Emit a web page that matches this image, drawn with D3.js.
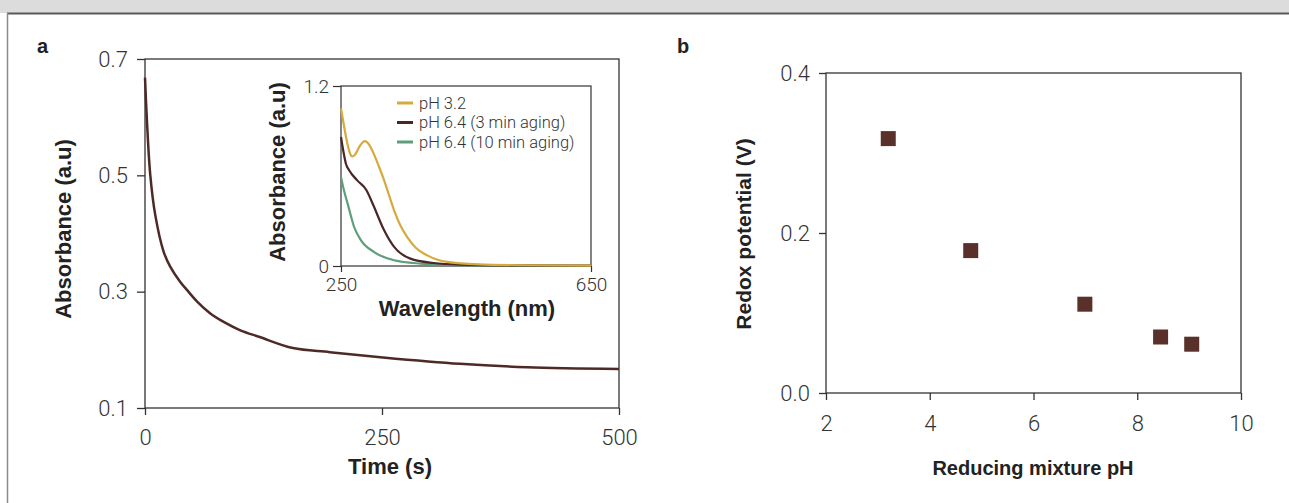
<!DOCTYPE html>
<html>
<head>
<meta charset="utf-8">
<script src="https://cdn.jsdelivr.net/npm/d3@7"></script>
<style>
  html, body { margin: 0; padding: 0; background: #fff; }
  svg { display: block; }
  .tick text { font-family: Roboto, "Liberation Sans", sans-serif; font-weight: 300; fill: #333; }
  .title { font-family: "Liberation Sans", Arial, sans-serif; font-weight: bold; fill: #222; }
</style>
</head>
<body>
<div id="chart"></div>
<script>
// panel a: absorbance decay over time
var decayTime = [0, 2.1, 5.6, 10.8, 19.6, 26.6, 37, 44.2, 55, 68.6, 83, 100, 121, 156, 195, 251, 332, 403, 500];
var decayAbs  = [0.668, 0.592, 0.5, 0.432, 0.369, 0.343, 0.317, 0.303, 0.283, 0.263, 0.248, 0.234, 0.222, 0.203, 0.196, 0.187, 0.176, 0.170, 0.167];
var decayXTicks = [0, 250, 500];
var decayYTicks = [0.1, 0.3, 0.5, 0.7];

// inset: spectra
var insetLabels = ["pH 3.2", "pH 6.4 (3 min aging)", "pH 6.4 (10 min aging)"];
var insetColors = ["#d6aa3c", "#4b2626", "#5e9e7a"];
var goldWl  = [250, 255, 260, 265, 268, 272, 280, 288, 293, 300, 311, 319, 327, 335, 345, 356, 370, 388, 420, 470, 550, 650];
var goldAbs = [1.05, 0.93, 0.82, 0.745, 0.73, 0.74, 0.80, 0.833, 0.82, 0.77, 0.66, 0.571, 0.47, 0.371, 0.27, 0.193, 0.12, 0.071, 0.027, 0.011, 0.005, 0.003];
var brownWl  = [250, 254, 258, 263, 276, 291, 296, 303, 319, 335, 361, 398, 441, 520, 650];
var brownAbs = [0.86, 0.76, 0.68, 0.638, 0.571, 0.504, 0.46, 0.393, 0.238, 0.127, 0.049, 0.02, 0.009, 0.004, 0.002];
var greenWl  = [250, 255, 260.6, 271, 282, 303, 335, 377, 441, 520, 650];
var greenAbs = [0.593, 0.50, 0.416, 0.26, 0.171, 0.093, 0.038, 0.016, 0.005, 0.002, 0.001];
var insetXTicks = [250, 650];
var insetYTicks = [0, 1.2];

// panel b: redox potential vs pH
var mixPH = [3.2, 4.79, 6.99, 8.45, 9.05];
var redoxV = [0.318, 0.178, 0.111, 0.070, 0.061];
var redoxXTicks = [2, 4, 6, 8, 10];
var redoxYTicks = [0.0, 0.2, 0.4];

var W = 1289, H = 503;
var svg = d3.select("#chart").append("svg").attr("width", W).attr("height", H);

// frame
svg.append("rect").attr("x", 0).attr("y", 0).attr("width", W).attr("height", 13).attr("fill", "#dcdcdc");
svg.append("line").attr("x1", 7).attr("x2", W).attr("y1", 13.5).attr("y2", 13.5).attr("stroke", "#5a5a5a").attr("stroke-width", 2);
svg.append("line").attr("x1", 7.5).attr("x2", 7.5).attr("y1", 13).attr("y2", H).attr("stroke", "#8a8a8a").attr("stroke-width", 1.5);

function box(g, x, y, stroke, sw) {
  var r = x.range(), d = y.range();
  g.append("rect")
    .attr("x", r[0]).attr("y", d[1])
    .attr("width", r[1] - r[0]).attr("height", d[0] - d[1])
    .attr("fill", "none").attr("stroke", stroke).attr("stroke-width", sw);
}

function styleAxis(g, size, sw) {
  g.select(".domain").remove();
  g.selectAll(".tick line").attr("stroke", "#333").attr("stroke-width", sw);
  g.selectAll(".tick text").style("font-size", size + "px");
}

// ---- panel a
var ax = d3.scaleLinear().domain([0, 500]).range([145, 619]);
var ay = d3.scaleLinear().domain([0.1, 0.7]).range([408, 59]);
var ga = svg.append("g");

ga.append("g").attr("transform", "translate(0,408)")
  .call(d3.axisBottom(ax).tickValues(decayXTicks).tickSize(7).tickPadding(14).tickFormat(d3.format("d")))
  .call(styleAxis, 22, 1.3);
ga.append("g").attr("transform", "translate(145,0)")
  .call(d3.axisLeft(ay).tickValues(decayYTicks).tickSize(8).tickPadding(9).tickFormat(d3.format(".1f")))
  .call(styleAxis, 22, 1.3);
box(ga, ax, ay, "#333", 1.3);

ga.append("path")
  .datum(decayTime.map(function(t, i) { return [t, decayAbs[i]]; }))
  .attr("fill", "none").attr("stroke", "#4e2a26").attr("stroke-width", 2.5)
  .attr("d", d3.line().x(function(d) { return ax(d[0]); }).y(function(d) { return ay(d[1]); }).curve(d3.curveCatmullRom.alpha(0.5)));

ga.append("text").attr("class", "title").attr("x", 390).attr("y", 474).attr("text-anchor", "middle").style("font-size", "22px").text("Time (s)");
ga.append("text").attr("class", "title").attr("transform", "translate(71,229) rotate(-90)").attr("text-anchor", "middle").style("font-size", "22px").text("Absorbance (a.u)");
svg.append("text").attr("class", "title").attr("x", 37).attr("y", 53).style("font-size", "20px").text("a");

// ---- inset
var ix = d3.scaleLinear().domain([250, 650]).range([341, 591]);
var iy = d3.scaleLinear().domain([0, 1.2]).range([266, 86]);
var gi = svg.append("g");
gi.append("g").attr("transform", "translate(0,266)")
  .call(d3.axisBottom(ix).tickValues(insetXTicks).tickSize(6).tickPadding(6).tickFormat(d3.format("d")))
  .call(styleAxis, 19, 1.2);
gi.append("g").attr("transform", "translate(341,0)")
  .call(d3.axisLeft(iy).tickValues(insetYTicks).tickSize(8).tickPadding(4).tickFormat(function(d) { return d === 0 ? "0" : d3.format(".1f")(d); }))
  .call(styleAxis, 19, 1.2);
box(gi, ix, iy, "#333", 1.2);

var spectra = [
  goldWl.map(function(w, i) { return [w, goldAbs[i]]; }),
  brownWl.map(function(w, i) { return [w, brownAbs[i]]; }),
  greenWl.map(function(w, i) { return [w, greenAbs[i]]; })
];
var iline = d3.line().x(function(d) { return ix(d[0]); }).y(function(d) { return iy(d[1]); }).curve(d3.curveMonotoneX);
gi.selectAll(".spec").data(spectra.slice().reverse()).enter().append("path")
  .attr("class", "spec").attr("fill", "none")
  .attr("stroke", function(d, i) { return insetColors[2 - i]; })
  .attr("stroke-width", 2.2)
  .attr("d", iline);

var leg = gi.selectAll(".leg").data(insetLabels).enter().append("g")
  .attr("class", "leg").attr("transform", function(d, i) { return "translate(397," + (103 + i * 19.5) + ")"; });
leg.append("line").attr("x1", 0).attr("x2", 16).attr("y1", 0).attr("y2", 0)
  .attr("stroke", function(d, i) { return insetColors[i]; }).attr("stroke-width", 3);
leg.append("text").attr("x", 22).attr("y", 5.5)
  .style("font-family", "Roboto, 'Liberation Sans', sans-serif").style("font-weight", 300)
  .style("font-size", "16.5px").style("fill", "#333").text(function(d) { return d; });

gi.append("text").attr("class", "title").attr("x", 467).attr("y", 316).attr("text-anchor", "middle").style("font-size", "22px").text("Wavelength (nm)");
gi.append("text").attr("class", "title").attr("transform", "translate(285,172) rotate(-90)").attr("text-anchor", "middle").style("font-size", "22px").text("Absorbance (a.u)");

// ---- panel b
var bx = d3.scaleLinear().domain([2, 10]).range([826, 1241]);
var by = d3.scaleLinear().domain([0, 0.4]).range([393, 73]);
var gb = svg.append("g");
gb.append("g").attr("transform", "translate(0,393)")
  .call(d3.axisBottom(bx).tickValues(redoxXTicks).tickSize(7).tickPadding(15).tickFormat(d3.format("d")))
  .call(styleAxis, 22, 1.3);
gb.append("g").attr("transform", "translate(826,0)")
  .call(d3.axisLeft(by).tickValues(redoxYTicks).tickSize(7).tickPadding(9).tickFormat(d3.format(".1f")))
  .call(styleAxis, 22, 1.3);
box(gb, bx, by, "#333", 1.3);

var side = 15;
gb.selectAll(".pt").data(mixPH).enter().append("rect")
  .attr("class", "pt")
  .attr("x", function(d) { return bx(d) - side / 2; })
  .attr("y", function(d, i) { return by(redoxV[i]) - side / 2; })
  .attr("width", side).attr("height", side)
  .attr("fill", "#5a302b");

gb.append("text").attr("class", "title").attr("x", 1033).attr("y", 475).attr("text-anchor", "middle").style("font-size", "20px").text("Reducing mixture pH");
gb.append("text").attr("class", "title").attr("transform", "translate(751,234) rotate(-90)").attr("text-anchor", "middle").style("font-size", "21px").text("Redox potential (V)");
svg.append("text").attr("class", "title").attr("x", 677).attr("y", 53).style("font-size", "20px").text("b");
</script>
</body>
</html>
